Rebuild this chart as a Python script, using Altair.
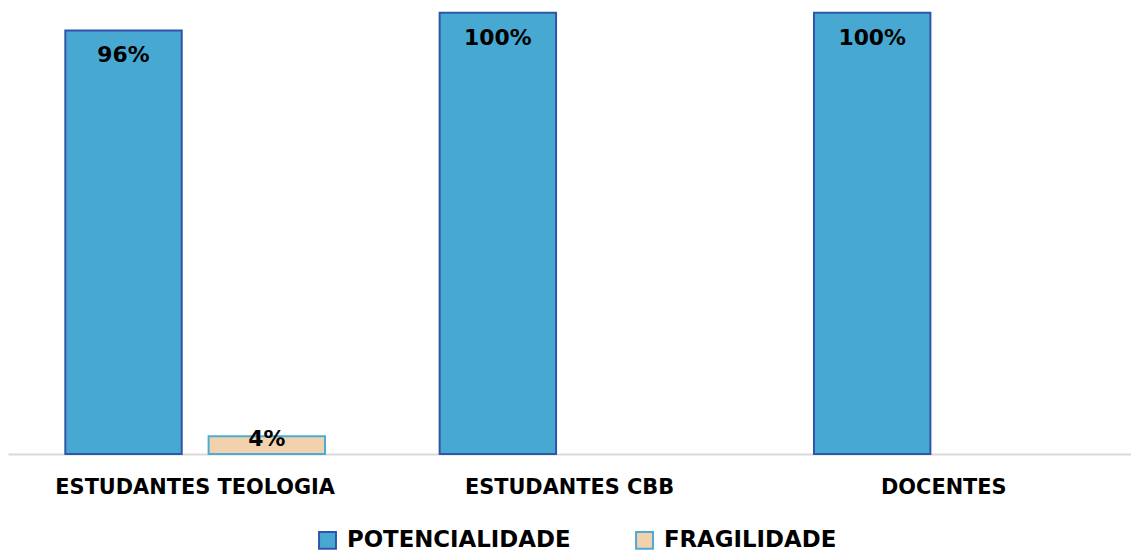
import altair as alt
import pandas as pd

categories = ["ESTUDANTES TEOLOGIA", "ESTUDANTES CBB", "DOCENTES"]
series = ["POTENCIALIDADE", "FRAGILIDADE"]
potencialidade = [96, 100, 100]
fragilidade = [4, 0, 0]

rows = []
for i, c in enumerate(categories):
    rows.append({"cat": c, "serie": series[0], "value": potencialidade[i], "label": f"{potencialidade[i]}%"})
    rows.append({"cat": c, "serie": series[1], "value": fragilidade[i], "label": f"{fragilidade[i]}%"})
df = pd.DataFrame(rows)

FONT = "DejaVu Sans"

x = alt.X("cat:N", sort=categories, title=None,
          scale=alt.Scale(domain=categories, paddingInner=0, paddingOuter=0),
          axis=alt.Axis(labelAngle=0, ticks=False, labelPadding=23, labelFont=FONT, labelLimit=0,
                        labelFontSize=21, labelFontWeight="bold", labelColor="#000000",
                        domainColor="#D9D9D9", domainWidth=2))
xoff = alt.XOffset("serie:N", sort=series,
                   scale=alt.Scale(domain=series, paddingInner=0.1875, paddingOuter=0.40))
y = alt.Y("value:Q", title=None, scale=alt.Scale(domain=[0, 100.7], nice=False),
          axis=None)

legend = alt.Legend(orient="none", legendX=310, legendY=522, direction="horizontal",
                    symbolType="square", symbolSize=290, symbolStrokeWidth=2, labelFont=FONT,
                    labelFontSize=23, labelFontWeight="bold", labelColor="#000000",
                    labelLimit=0, labelOffset=8, columnPadding=60)

bars = alt.Chart(df).transform_filter("datum.value > 0").mark_bar(strokeWidth=2).encode(
    x=x, xOffset=xoff, y=y,
    fill=alt.Fill("serie:N", sort=series, title=None,
                  scale=alt.Scale(domain=series, range=["#47A8D2", "#F1D2AD"]),
                  legend=legend),
    stroke=alt.Stroke("serie:N", sort=series, title=None,
                      scale=alt.Scale(domain=series, range=["#2F55A8", "#4BACD6"]),
                      legend=legend),
)

big = alt.Chart(df).transform_filter("datum.value >= 10").mark_text(
    baseline="middle", dy=25, font=FONT, fontSize=22, fontWeight="bold", color="#000000"
).encode(x=x, xOffset=xoff, y=y, text="label:N")

small = alt.Chart(df).transform_filter("datum.value > 0 && datum.value < 10").mark_text(
    baseline="middle", dy=3, font=FONT, fontSize=22, fontWeight="bold", color="#000000"
).encode(x=x, xOffset=xoff, y=y, text="label:N")

chart = alt.layer(bars, big, small).properties(
    width=1130, height=447, background="#FFFFFF",
    padding={"left": 0, "top": 0, "right": 0, "bottom": 0}
).configure_view(stroke=None)

chart.save("out.html", embed_options={"renderer": "svg", "actions": False})
